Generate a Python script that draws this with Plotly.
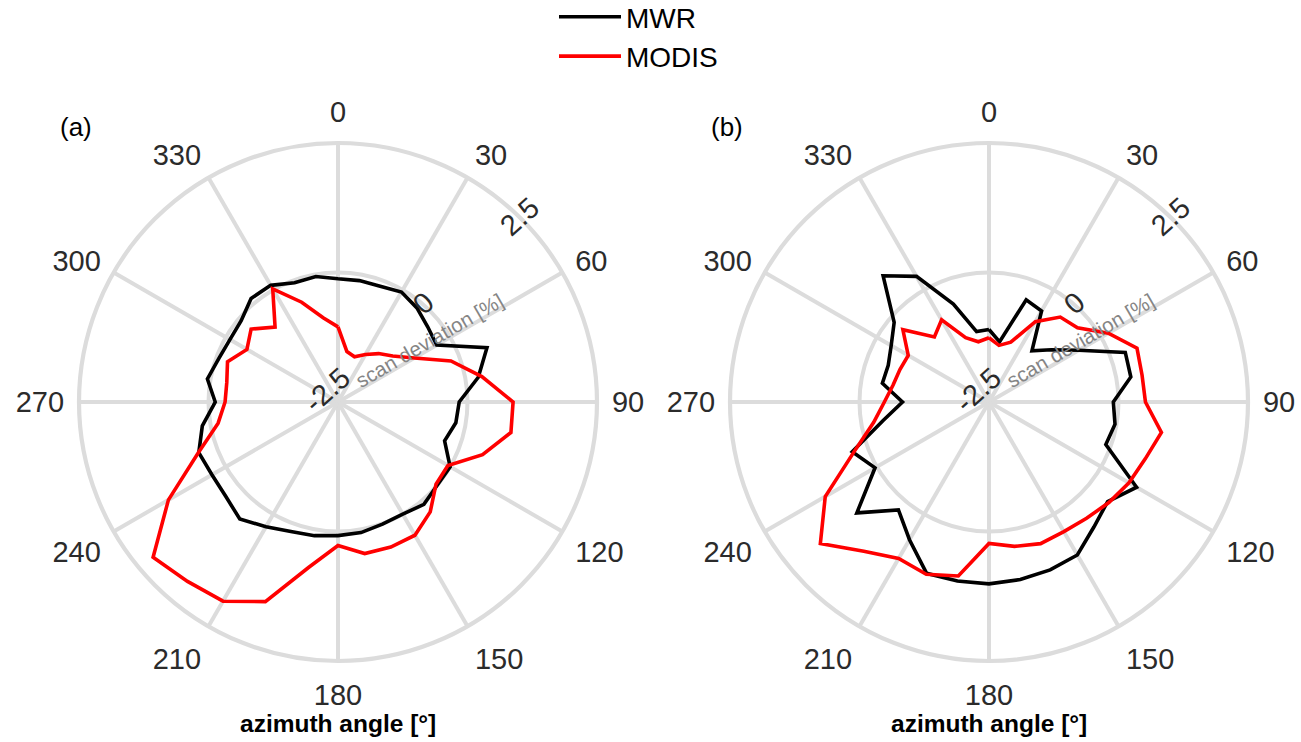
import plotly.graph_objects as go

# ---------------- data ----------------
theta = list(range(0, 360, 10))

mwr_a = [-0.12, -0.12, -0.12, -0.05, -0.13, -0.24, -0.30, 0.56, 0.25, -0.16,
         -0.19, -0.31, 0.00, 0.00, 0.08, 0.00, 0.01, 0.06, 0.08, 0.12,
         0.16, 0.28, 0.45, 0.33, 0.31, 0.36, 0.16, -0.13, 0.06, -0.05,
         -0.09, -0.06, 0.11, 0.10, -0.05, -0.04]

modis_a = [-1.05, -1.51, -1.57, -1.44, -1.28, -1.12, -0.80, -0.18, 0.32, 0.88,
           0.89, 0.47, -0.05, -0.03, 0.27, 0.47, 0.48, 0.47, 0.27, 0.74,
           1.60, 1.94, 2.02, 2.16, 1.28, 0.37, -0.15, -0.32, -0.32, -0.23,
           -0.47, -0.31, -0.61, 0.02, -0.45, -0.85]

mwr_b = [-1.10, -1.32, -0.40, -0.47, -1.21, -0.93, -0.50, 0.30, 0.28, -0.10,
         -0.03, -0.10, 0.79, 0.49, 0.65, 0.91, 0.95, 0.98, 1.01, 1.01,
         1.02, 0.57, 0.22, 0.83, 0.04, 0.31, -0.42, -0.83, -0.41, -0.43,
         -0.32, -0.11, 0.68, 0.30, -0.49, -1.12]

modis_b = [-1.26, -1.39, -1.27, -0.71, -0.36, -0.27, 0.16, 0.54, 0.50, 0.52,
           0.88, 0.71, 0.62, 0.52, 0.43, 0.39, 0.41, 0.33, 0.23, 0.91,
           1.04, 0.99, 1.26, 1.75, 1.15, 0.26, -0.24, -0.48, -0.62, -0.67,
           -0.70, -0.33, -0.86, -0.67, -1.18, -1.32]

angle_ticks = list(range(0, 360, 30))
radial_ticks = [-2.5, 0, 2.5]
radial_labels = ["-2.5", "0", "2.5"]
series_names = ["MWR", "MODIS"]
panel_labels = ["(a)", "(b)"]
radial_title = "scan deviation [%]"
angular_title = "<b>azimuth angle [°]</b>"

# ---------------- style ----------------
GRID = "#DCDCDC"
FONT = "Liberation Sans, Arial, sans-serif"
COLORS = {"MWR": "black", "MODIS": "#ff0000"}
W, H = 1301, 742


def close(v):
    return list(v) + [v[0]]


th = close(theta)

fig = go.Figure()
panels = [("polar", mwr_a, modis_a), ("polar2", mwr_b, modis_b)]
for i, (sub, mwr, modis) in enumerate(panels):
    for name, vals in zip(series_names, [mwr, modis]):
        fig.add_trace(go.Scatterpolar(
            r=close(vals), theta=th, mode="lines", name=name,
            line=dict(color=COLORS[name], width=3.6),
            subplot=sub, showlegend=(i == 0), hoverinfo="skip",
        ))


def polar_layout(xdom):
    return dict(
        domain=dict(x=xdom, y=[81 / H, 599 / H]),
        bgcolor="white",
        angularaxis=dict(
            rotation=90, direction="clockwise",
            tickmode="array", tickvals=angle_ticks,
            ticktext=[str(a) for a in angle_ticks],
            showgrid=True, gridcolor=GRID, gridwidth=3.6,
            showline=True, linecolor=GRID, linewidth=4.2,
            ticks="outside", ticklen=7, tickcolor="rgba(0,0,0,0)",
            tickfont=dict(size=29, color="#2b2b2b", family=FONT),
        ),
        radialaxis=dict(
            range=[-2.5, 2.5], tickmode="array", tickvals=radial_ticks,
            ticktext=radial_labels, angle=42, side="counterclockwise",
            showline=False, showgrid=True, gridcolor=GRID, gridwidth=3.6,
            ticks="", tickfont=dict(size=29, color="#2b2b2b", family=FONT),
        ),
    )


centers = [338, 989]
annotations = []
for lab, cx in zip(panel_labels, centers):
    annotations.append(dict(
        text=lab, x=(cx - 262) / W, y=1 - 127 / H, xref="paper", yref="paper",
        xanchor="center", yanchor="middle", showarrow=False,
        font=dict(size=26, color="black", family=FONT)))
    annotations.append(dict(
        text=angular_title, x=cx / W, y=1 - 723 / H, xref="paper", yref="paper",
        xanchor="center", yanchor="middle", showarrow=False,
        font=dict(size=24.5, color="black", family=FONT)))
    annotations.append(dict(
        text=radial_title, x=(cx + 91) / W, y=1 - 340 / H, xref="paper", yref="paper",
        xanchor="center", yanchor="middle", showarrow=False, textangle=-30,
        font=dict(size=20.5, color="#858585", family=FONT)))

fig.update_layout(
    width=W, height=H,
    margin=dict(l=0, r=0, t=0, b=0, autoexpand=False),
    paper_bgcolor="white", plot_bgcolor="white",
    font=dict(family=FONT, color="black"),
    polar=polar_layout([79 / W, 597 / W]),
    polar2=polar_layout([730 / W, 1248 / W]),
    legend=dict(x=554 / W, y=1 + 8 / H, xanchor="left", yanchor="top",
                font=dict(size=28, color="black", family=FONT),
                bgcolor="rgba(0,0,0,0)", tracegroupgap=0, itemwidth=62),
    annotations=annotations,
)

fig.write_html("out.html", config={"displayModeBar": False},
               post_script="document.body.style.margin='0';")
